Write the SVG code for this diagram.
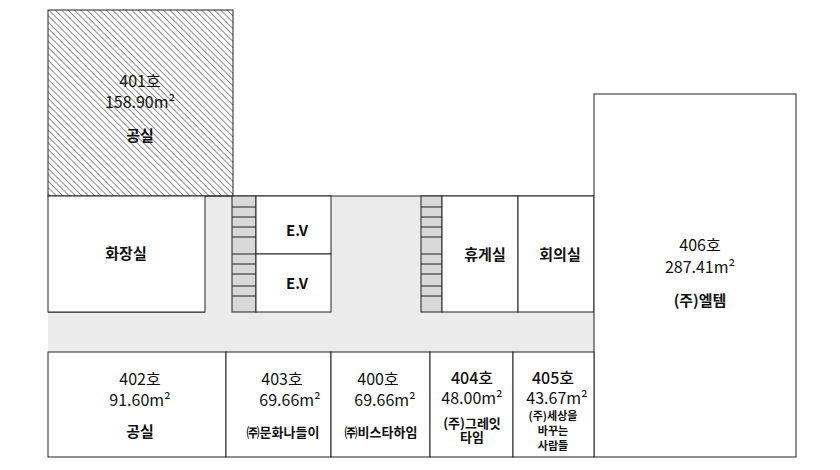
<svg xmlns="http://www.w3.org/2000/svg" width="840" height="470" viewBox="0 0 840 470">
<style>
text{font-family:"Noto Sans CJK KR","Noto Sans",sans-serif;fill:#111;text-anchor:middle}
.r{fill:#fff;stroke:#222;stroke-width:1}
.g{fill:#ebebeb;stroke:none}
.s{fill:#d9d9d9;stroke:#222;stroke-width:1}
.n{font-size:16px}
.b{font-size:15px;font-weight:bold}
.sm{font-size:13px;font-weight:bold}
.xs{font-size:11px;font-weight:bold}
line{stroke:#222;stroke-width:1}
</style>
<defs>
<pattern id="h" width="4.5" height="4.5" patternUnits="userSpaceOnUse" patternTransform="rotate(-45)">
<line x1="0" y1="0" x2="0" y2="4.5" stroke="#888" stroke-width="0.8"/>
</pattern>
</defs>
<rect x="0" y="0" width="840" height="470" fill="#fff"/>
<rect class="g" x="205" y="196" width="389" height="156"/>
<rect class="g" x="48" y="312" width="546" height="40"/>
<line x1="48" y1="312" x2="205" y2="312"/>
<line x1="205" y1="196" x2="594" y2="196"/>
<g id="n401"><rect x="48" y="10" width="185" height="186" fill="url(#h)" stroke="#222"/>
<text class="n" x="140" y="87">401호</text><text class="n" x="140" y="108">158.90m²</text><text class="b" x="140" y="141">공실</text></g>
<g id="toilet"><rect class="r" x="48" y="196" width="157" height="116"/><text class="b" x="126" y="259">화장실</text></g>
<g id="stair1"><rect class="s" x="232" y="196" width="24" height="116"/>
<path d="M232 207H256M232 217H256M232 227H256M232 237H256M232 254H256M232 264H256M232 274H256M232 286H256M232 296H256" stroke="#222"/></g>
<g id="ev1"><rect class="r" x="256" y="196" width="75" height="58"/><text class="b" x="297" y="236">E.V</text></g>
<g id="ev2"><rect class="r" x="256" y="254" width="75" height="58"/><text class="b" x="297" y="289">E.V</text></g>
<g id="stair2"><rect class="s" x="421" y="196" width="21" height="116"/>
<path d="M421 207H442M421 217H442M421 227H442M421 237H442M421 254H442M421 264H442M421 274H442M421 286H442M421 296H442" stroke="#222"/></g>
<g id="lounge"><rect class="r" x="442" y="196" width="76" height="116"/><text class="b" x="485" y="260">휴게실</text></g>
<g id="meeting"><rect class="r" x="518" y="196" width="76" height="116"/><text class="b" x="560" y="260">회의실</text></g>
<g id="n406"><rect class="r" x="594" y="94" width="202" height="363"/>
<text class="n" x="700" y="251">406호</text><text class="n" x="700" y="273">287.41m²</text><text class="b" x="700" y="306">(주)엘템</text></g>
<g id="n402"><rect class="r" x="48" y="352" width="178" height="105"/>
<text class="n" x="140" y="385">402호</text><text class="n" x="140" y="406">91.60m²</text><text class="b" x="140" y="437">공실</text></g>
<g id="n403"><rect class="r" x="226" y="352" width="105" height="105"/>
<text class="n" x="282" y="385">403호</text><text class="n" x="290" y="406">69.66m²</text><text class="sm" x="283" y="437">㈜문화나들이</text></g>
<g id="n400"><rect class="r" x="331" y="352" width="99" height="105"/>
<text class="n" x="378" y="385">400호</text><text class="n" x="385" y="406">69.66m²</text><text class="sm" x="381" y="437">㈜비스타하임</text></g>
<g id="n404"><rect class="r" x="430" y="352" width="83" height="105"/>
<text class="n" x="472" y="384" style="font-weight:500">404호</text><text class="n" x="472" y="404">48.00m²</text><text class="sm" x="472" y="428">(주)그레잇</text><text class="sm" x="472" y="442">타임</text></g>
<g id="n405"><rect class="r" x="513" y="352" width="81" height="105"/>
<text class="n" x="553" y="384" style="font-weight:500">405호</text><text class="n" x="557" y="404">43.67m²</text><text class="xs" x="553" y="420">(주)세상을</text><text class="xs" x="553" y="435">바꾸는</text><text class="xs" x="553" y="450">사람들</text></g>
<g id="connectors"/>
</svg>
